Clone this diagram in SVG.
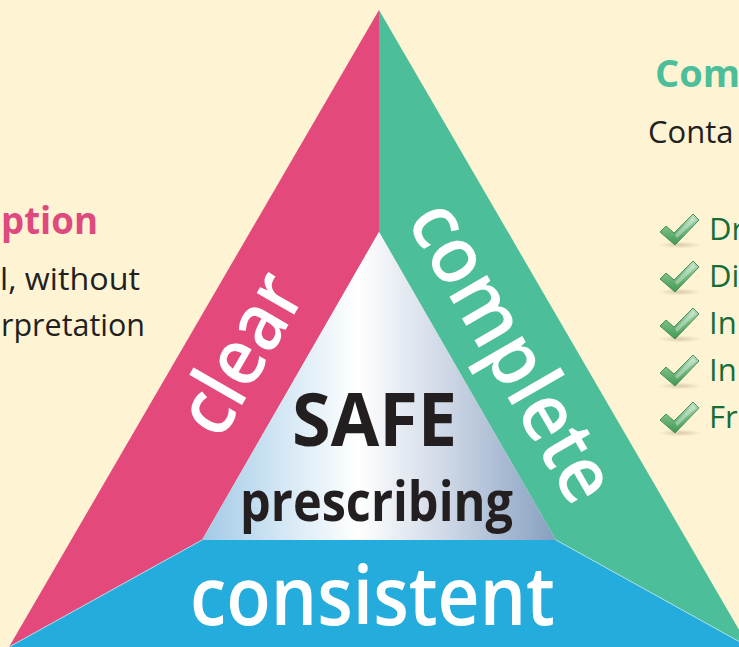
<svg xmlns="http://www.w3.org/2000/svg" width="739" height="647" viewBox="0 0 739 647">
  <defs>
    <style>
      .sans { font-family: "Open Sans", "Noto Sans", "DejaVu Sans", sans-serif; }
      .big { font-size: 80px; font-weight: 600; fill: #ffffff; }
      .core { font-weight: 700; fill: #231f20; }
      .note { font-size: 31px; fill: #231f20; }
      .head { font-size: 38px; font-weight: 700; }
      .item { font-size: 31px; fill: #176d38; }
    </style>
    <linearGradient id="coreFill" gradientUnits="userSpaceOnUse" x1="202" y1="0" x2="556" y2="0">
      <stop offset="0" stop-color="#a2cae6"/>
      <stop offset="0.22" stop-color="#d2e6f4"/>
      <stop offset="0.44" stop-color="#ffffff"/>
      <stop offset="0.7" stop-color="#ccd6e5"/>
      <stop offset="1" stop-color="#86a0c0"/>
    </linearGradient>
    <linearGradient id="tickFill" x1="0" y1="0" x2="0" y2="1">
      <stop offset="0" stop-color="#bfe0c6"/>
      <stop offset="0.45" stop-color="#79bd86"/>
      <stop offset="1" stop-color="#3f9850"/>
    </linearGradient>
    <radialGradient id="tickShadow">
      <stop offset="0" stop-color="#c9b99a" stop-opacity="0.7"/>
      <stop offset="1" stop-color="#c9b99a" stop-opacity="0"/>
    </radialGradient>
    <!-- check mark, bottom vertex at the origin -->
    <g id="tick">
      <ellipse cx="6" cy="3" rx="22" ry="3.5" fill="url(#tickShadow)"/>
      <polygon points="-14,-10 -8,-16 0,-9 19,-28 25,-22 1,3" fill="url(#tickFill)" stroke="#4b8e57" stroke-width="1" stroke-linejoin="round"/>
      <polygon points="1,-7 19,-25 22,-22 3,-4" fill="#ffffff" opacity="0.35"/>
    </g>
  </defs>

  <rect width="739" height="647" fill="#fef4d4"/>

  <!-- left side: pink strip -->
  <g id="clear">
    <polygon points="379,10 379,232 202,540 9,647" fill="#e34a7b"/>
    <text class="sans big" transform="translate(264,367) rotate(-60)" text-anchor="middle" textLength="172" lengthAdjust="spacingAndGlyphs">clear</text>
  </g>

  <!-- right side: green strip -->
  <g id="complete">
    <polygon points="379,10 749,647 556,540 379,232" fill="#4cbe99"/>
    <text class="sans big" transform="translate(489,365) rotate(60)" text-anchor="middle" textLength="333" lengthAdjust="spacingAndGlyphs">complete</text>
  </g>

  <!-- base: blue band -->
  <g id="consistent">
    <polygon points="202,540 556,540 749,647 9,647" fill="#23acdc"/>
    <path d="M202,540 L9,647 M556,540 L749,647" fill="none" stroke="#bfe6f0" stroke-width="0.8"/>
    <text class="sans big" x="372.5" y="625" text-anchor="middle" textLength="365" lengthAdjust="spacingAndGlyphs" style="font-size:82px">consistent</text>
  </g>

  <!-- centre triangle -->
  <g id="safe-prescribing">
    <polygon points="379,232 556,540 202,540" fill="url(#coreFill)"/>
    <text class="sans core" x="374.5" y="446" text-anchor="middle" textLength="165" lengthAdjust="spacingAndGlyphs" style="font-size:74px">SAFE</text>
    <text class="sans core" x="376.5" y="521" text-anchor="middle" textLength="273" lengthAdjust="spacingAndGlyphs" style="font-size:55px">prescribing</text>
  </g>

  <!-- left note -->
  <g id="description-note">
    <text class="sans head" x="1" y="234" fill="#df4a7e" textLength="97" lengthAdjust="spacingAndGlyphs">ption</text>
    <text class="sans note" x="0" y="290" textLength="140" lengthAdjust="spacingAndGlyphs">l, without</text>
    <text class="sans note" x="1" y="336" textLength="144" lengthAdjust="spacingAndGlyphs">rpretation</text>
  </g>

  <!-- right note -->
  <g id="completeness-note">
    <text class="sans head" x="655" y="87" fill="#4cbe99">Com</text>
    <text class="sans note" x="648" y="143">Conta</text>
    <use href="#tick" x="674" y="242"/>
    <use href="#tick" x="674" y="289"/>
    <use href="#tick" x="674" y="336"/>
    <use href="#tick" x="674" y="383"/>
    <use href="#tick" x="674" y="430"/>
    <text class="sans item" x="709" y="240">Dr</text>
    <text class="sans item" x="709" y="287">Di</text>
    <text class="sans item" x="709" y="334">In</text>
    <text class="sans item" x="709" y="381">In</text>
    <text class="sans item" x="709" y="428">Fr</text>
  </g>
</svg>
